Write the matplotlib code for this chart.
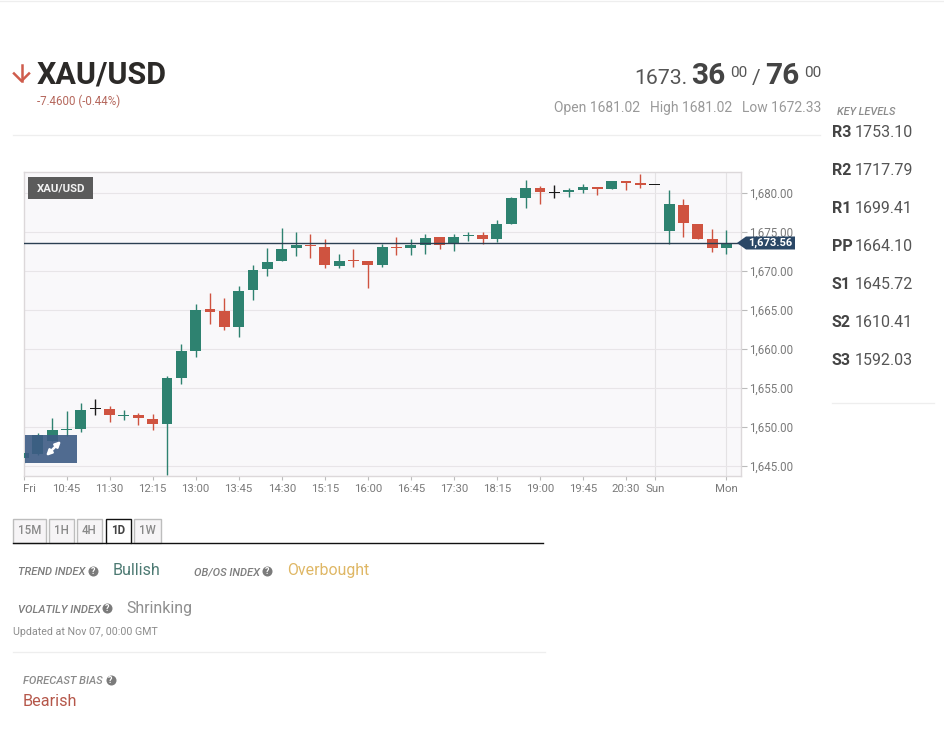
import matplotlib
matplotlib.use('Agg')
import matplotlib.pyplot as plt
from matplotlib.patches import Rectangle, Polygon

plt.rcParams['font.family'] = ['Roboto', 'DejaVu Sans']

# velas: apertura, cierre, maximo, minimo
opens = [1646.0, 1646.5, 1648.2, 1649.6, 1649.65, 1652.3, 1652.3, 1651.35, 1651.45, 1651.0,
         1650.4, 1656.2, 1659.7, 1665.1, 1664.8, 1662.8, 1667.5, 1670.25, 1671.2, 1672.85,
         1673.3, 1673.1, 1670.65, 1671.35, 1671.2, 1670.75, 1673.05, 1672.9, 1673.35, 1674.3,
         1673.4, 1674.45, 1674.55, 1674.1, 1676.05, 1679.3, 1680.55, 1680.0, 1680.05, 1680.3,
         1680.75, 1680.5, 1681.55, 1681.15, 1681.0, 1675.15, 1678.45, 1676.05, 1674.05, 1672.9]
closes = [1646.6, 1648.9, 1649.6, 1649.7, 1652.2, 1652.3, 1651.45, 1651.45, 1651.15, 1650.4,
          1656.2, 1659.7, 1665.0, 1664.75, 1662.8, 1667.4, 1670.1, 1671.15, 1672.8, 1673.3,
          1673.2, 1670.7, 1671.3, 1671.25, 1670.7, 1673.0, 1672.95, 1673.3, 1674.25, 1673.35,
          1674.35, 1674.55, 1674.1, 1676.0, 1679.3, 1680.6, 1680.1, 1680.0, 1680.3, 1680.75,
          1680.45, 1681.5, 1681.3, 1681.05, 1681.0, 1678.5, 1676.15, 1674.1, 1672.85, 1673.55]
highs = [1646.9, 1649.2, 1651.1, 1652.0, 1653.1, 1653.6, 1652.7, 1652.2, 1651.8, 1651.6,
         1656.5, 1660.6, 1665.7, 1667.2, 1666.45, 1668.0, 1670.7, 1672.95, 1675.5, 1674.9,
         1674.75, 1674.0, 1672.2, 1672.8, 1671.2, 1673.4, 1674.3, 1674.0, 1674.65, 1674.3,
         1674.65, 1675.0, 1674.95, 1676.45, 1679.45, 1681.65, 1680.85, 1681.0, 1680.65, 1681.15,
         1680.75, 1681.5, 1681.55, 1682.45, 1681.05, 1680.4, 1679.15, 1676.05, 1675.3, 1675.2]
lows = [1645.4, 1646.4, 1648.2, 1648.8, 1649.3, 1651.5, 1650.6, 1650.9, 1650.2, 1649.6,
        1643.8, 1655.5, 1658.9, 1663.2, 1662.4, 1661.5, 1666.2, 1669.3, 1671.2, 1671.9,
        1671.65, 1670.3, 1670.3, 1670.5, 1667.8, 1670.45, 1672.0, 1672.0, 1672.2, 1672.8,
        1672.5, 1673.8, 1673.45, 1673.7, 1676.05, 1678.0, 1678.5, 1679.35, 1679.5, 1680.0,
        1679.65, 1680.5, 1680.4, 1680.65, 1680.95, 1673.4, 1674.3, 1674.1, 1672.45, 1672.2]

tick_idx = [0, 3, 6, 9, 12, 15, 18, 21, 24, 27, 30, 33, 36, 39, 42, 44, 49]
tick_labels = ['Fri', '10:45', '11:30', '12:15', '13:00', '13:45', '14:30', '15:15', '16:00',
               '16:45', '17:30', '18:15', '19:00', '19:45', '20:30', 'Sun', 'Mon']
price_ticks = [1645, 1650, 1655, 1660, 1665, 1670, 1675, 1680]
last_price = 1673.56

key_names = ['R3', 'R2', 'R1', 'PP', 'S1', 'S2', 'S3']
key_values = ['1753.10', '1717.79', '1699.41', '1664.10', '1645.72', '1610.41', '1592.03']

tabs = ['15M', '1H', '4H', '1D', '1W']

W, H = 944, 747
GREEN = '#2e8270'
RED = '#cf5340'

fig = plt.figure(figsize=(W / 100, H / 100), dpi=100, facecolor='white')

# grafico de velas
L, R, T, B = 23.5, 740.7, 172.3, 476.0
ax = fig.add_axes([L / W, 1 - B / H, (R - L) / W, (B - T) / H])
ax.set_facecolor('#f9f8fa')
ax.set_xlim((L - 23.3) / 14.35, (R - 23.3) / 14.35)
ax.set_ylim(1680 - (B - 192.7) / 7.8, 1680 - (T - 192.7) / 7.8)

for s in ax.spines.values():
    s.set_color('#dcd8da')
    s.set_linewidth(1)

ax.set_yticks(price_ticks)
ax.set_yticklabels(['{:,.2f}'.format(p) for p in price_ticks])
ax.yaxis.tick_right()
ax.set_xticks(tick_idx)
ax.set_xticklabels(tick_labels)
ax.tick_params(axis='y', length=4, width=0.8, color='#bbbbbb', labelcolor='#7a7a7a', labelsize=8.3, pad=2)
ax.tick_params(axis='x', length=3, width=0.8, color='#bbbbbb', labelcolor='#7a7a7a', labelsize=8.2, pad=3)
ax.get_xticklabels()[0].set_ha('left')
ax.set_axisbelow(True)
ax.grid(axis='y', color='#e8e5e8', linewidth=0.8)
for i in [44, 49]:
    ax.axvline(i, color='#e4e2e4', linewidth=0.8, zorder=0.5)

for i in range(len(opens)):
    if closes[i] > opens[i]:
        col = GREEN
    elif closes[i] < opens[i]:
        col = RED
    else:
        col = '#1a1a1a'
    ax.vlines(i, lows[i], highs[i], color=col, linewidth=1.0, zorder=2)
    alto = max(abs(closes[i] - opens[i]), 0.14)
    ax.bar(i, alto, width=0.76, bottom=min(opens[i], closes[i]), color=col, linewidth=0, zorder=3)

ax.axhline(last_price, color='#2b3f52', linewidth=1, zorder=4)

# capa en pixeles para todo lo que no es el grafico
over = fig.add_axes([0, 0, 1, 1])
over.set_xlim(0, W)
over.set_ylim(H, 0)
over.axis('off')
over.patch.set_alpha(0)

over.add_patch(Polygon([(737, 243), (746, 236.5), (795, 236.5), (795, 249.5), (746, 249.5)],
                       closed=True, facecolor='#2a4766', edgecolor='none'))
over.text(770.5, 243.3, '1,673.56', color='white', fontsize=8, fontweight='bold', ha='center', va='center')

over.add_patch(Rectangle((28, 177), 65, 22, facecolor='#5b5b5b', edgecolor='none'))
over.text(61, 188, 'XAU/USD', color='#f2f2f2', fontsize=8.2, fontweight='bold', ha='center', va='center')

# boton de expandir
over.add_patch(Rectangle((25, 435), 52, 28, facecolor='#3d5c85', edgecolor='none', alpha=0.9))
over.annotate('', xy=(46, 456), xytext=(61, 441),
              arrowprops=dict(arrowstyle='<|-|>', color='white', lw=1.8, mutation_scale=8, shrinkA=0, shrinkB=0))


def txt(x, y, s, size, color='#444444', ha='left', va='baseline', **kw):
    over.text(x, y, s, fontsize=size, color=color, ha=ha, va=va, **kw)


def ayuda(x, y):
    over.scatter([x], [y], s=52, color='#7b7b7b', linewidths=0, zorder=5)
    txt(x, y + 0.3, '?', 6.5, color='white', ha='center', va='center', fontweight='bold', zorder=6)


# cabecera
over.plot([21.5, 21.5], [65, 81], color='#cf5c4c', linewidth=1.8)
over.plot([14, 21.5, 29], [73.5, 81, 73.5], color='#cf5c4c', linewidth=1.8)
txt(37, 84, 'XAU/USD', 22, color='#2c2a28', fontweight='bold')
txt(37, 105, '-7.4600 (-0.44%)', 8.3, color='#b5675c')

txt(634, 84, '1673.', 15.3, color='#555555')
txt(691, 84, '36', 21.5, color='#444444', fontweight='bold')
txt(730, 77, '00', 11, color='#555555')
txt(752, 84, '/', 15, color='#555555')
txt(765.5, 84, '76', 21.5, color='#444444', fontweight='bold')
txt(804, 77, '00', 11, color='#555555')
txt(640, 112, 'Open 1681.02', 10, color='#999999', ha='right')
txt(732, 112, 'High 1681.02', 10, color='#999999', ha='right')
txt(821, 112, 'Low 1672.33', 10, color='#999999', ha='right')

over.plot([13, 820], [135, 135], color='#eeeeee', linewidth=0.9)
over.plot([0, W], [0.5, 0.5], color='#eeeeee', linewidth=0.9)

# niveles clave
txt(837, 115, 'KEY LEVELS', 7.8, color='#8a8a8a', style='italic', fontweight='medium')
for i in range(len(key_names)):
    y = 137 + 38 * i
    txt(832, y, key_names[i], 11.5, color='#444444', fontweight='bold')
    txt(855, y, key_values[i], 11.5, color='#555555')
over.plot([832, 934], [403, 403], color='#eeeeee', linewidth=0.9)

# pestanas de temporalidad
tab_x0 = [13, 49, 77, 106, 134]
tab_x1 = [46, 74, 102, 131, 161]
for i in range(len(tabs)):
    activa = tabs[i] == '1D'
    over.add_patch(Rectangle((tab_x0[i], 519), tab_x1[i] - tab_x0[i], 24,
                             facecolor='white' if activa else '#f6f4f6',
                             edgecolor='#111111' if activa else '#bdbdbd',
                             linewidth=1, zorder=2))
    txt((tab_x0[i] + tab_x1[i]) / 2, 531, tabs[i], 8.3, color='#444444' if activa else '#888888',
        ha='center', va='center', fontweight='bold' if activa else 'medium', zorder=3)
over.plot([13, 106], [543, 543], color='#111111', linewidth=1, zorder=4)
over.plot([131, 543], [543, 543], color='#111111', linewidth=1, zorder=4)

# indices
txt(18, 575, 'TREND INDEX', 8, color='#7d7d7d', style='italic', fontweight='medium')
ayuda(93, 571)
txt(113, 575, 'Bullish', 11.6, color='#4d7a73')
txt(194, 575, 'OB/OS INDEX', 8, color='#7d7d7d', style='italic', fontweight='medium')
ayuda(267, 571)
txt(287, 575, 'Overbought', 11.4, color='#dfb765')
txt(18, 613, 'VOLATILY INDEX', 8, color='#7d7d7d', style='italic', fontweight='medium')
ayuda(107, 608)
txt(126, 613, 'Shrinking', 11.4, color='#8f8f8f')
txt(13, 635, 'Updated at Nov 07, 00:00 GMT', 7.7, color='#8c8c8c')
over.plot([13, 545], [652, 652], color='#eeeeee', linewidth=0.9)
txt(23, 684, 'FORECAST BIAS', 8, color='#8a8a8a', style='italic', fontweight='medium')
ayuda(110.5, 680)
txt(23, 706, 'Bearish', 11.7, color='#b5574a')

fig.savefig('out.png', dpi=100, facecolor='white')
